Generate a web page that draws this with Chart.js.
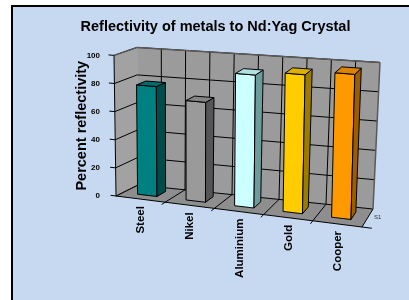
<!DOCTYPE html>
<html>
<head>
<meta charset="utf-8">
<script src="https://cdn.jsdelivr.net/npm/chart.js@4.4.1/dist/chart.umd.min.js"></script>
<style>
html, body { margin: 0; padding: 0; background: #fff; }
#wrap { width: 409px; height: 300px; }
</style>
</head>
<body>
<div id="wrap"><canvas id="chart" width="409" height="300"></canvas></div>
<script>
var metals = ['Steel', 'Nikel', 'Aluminium', 'Gold', 'Cooper'];
var reflectivity = [78, 70, 92, 95, 98];
var seriesName = 'S1';
var frontColors = ['#008080', '#9a9a9a', '#ccffff', '#ffcc00', '#ff9900'];
var sideColors = ['#004c4c', '#555555', '#6e9c9c', '#9c7c00', '#9c5c00'];
var topColors = ['#006c6c', '#858585', '#b0e0e0', '#dcb000', '#dc8400'];

var FONT = "'Liberation Sans', Arial, sans-serif";

// box corners relative to the chart area (front plane = y axis)
function corners(a) {
    return {
        FLB: [a.left + 1, a.bottom], FRB: [a.left + 247, a.bottom + 31],
        FLT: [a.left - 1, a.top], FRT: [a.left + 250, a.top + 22],
        BLB: [a.left + 23, a.bottom - 11], BRB: [a.left + 258, a.bottom + 13],
        BLT: [a.left + 22, a.top - 8], BRT: [a.left + 265, a.top + 7]
    };
}

function lerp(p, q, t) {
    return [p[0] + (q[0] - p[0]) * t, p[1] + (q[1] - p[1]) * t];
}

function project(c, u, v, w) {
    var f = lerp(lerp(c.FLB, c.FRB, u), lerp(c.FLT, c.FRT, u), v);
    var b = lerp(lerp(c.BLB, c.BRB, u), lerp(c.BLT, c.BRT, u), v);
    return lerp(f, b, w);
}

function poly(ctx, pts, fill, stroke) {
    ctx.beginPath();
    ctx.moveTo(pts[0][0], pts[0][1]);
    for (var i = 1; i < pts.length; i++) ctx.lineTo(pts[i][0], pts[i][1]);
    ctx.closePath();
    if (fill) { ctx.fillStyle = fill; ctx.fill(); }
    if (stroke) { ctx.strokeStyle = stroke; ctx.stroke(); }
}

function line(ctx, p, q) {
    ctx.beginPath();
    ctx.moveTo(p[0], p[1]);
    ctx.lineTo(q[0], q[1]);
    ctx.stroke();
}

function valueToV(yScale, val) {
    return (yScale.bottom - yScale.getPixelForValue(val)) / (yScale.bottom - yScale.top);
}

var box3d = {
    id: 'box3d',
    beforeDraw: function (chart) {
        var ctx = chart.ctx;
        ctx.save();
        ctx.fillStyle = '#ffffff';
        ctx.fillRect(0, 0, chart.width, chart.height);
        ctx.fillStyle = '#c6d9f0';
        ctx.fillRect(12, 6, chart.width - 12, chart.height - 6);
        ctx.fillStyle = '#000';
        ctx.fillRect(11, 5, 2, chart.height - 5);
        ctx.fillRect(11, 5, chart.width - 11, 2);
        ctx.restore();
    },
    beforeDatasetsDraw: function (chart) {
        var ctx = chart.ctx, c = corners(chart.chartArea), y = chart.scales.y;
        var P = function (u, v, w) { return project(c, u, v, w); };
        ctx.save();
        ctx.lineWidth = 1;
        // walls and floor
        poly(ctx, [P(0, 0, 0), P(0, 0, 1), P(0, 1, 1), P(0, 1, 0)], '#a2a2a2');
        poly(ctx, [P(0, 0, 1), P(1, 0, 1), P(1, 1, 1), P(0, 1, 1)], '#9b9b9b');
        poly(ctx, [P(0, 0, 0), P(1, 0, 0), P(1, 0, 1), P(0, 0, 1)], '#8e8e8e');
        ctx.strokeStyle = '#000';
        y.ticks.forEach(function (t) {
            var v = valueToV(y, t.value);
            line(ctx, P(0, v, 0), P(0, v, 1));
            line(ctx, P(0, v, 1), P(1, v, 1));
            line(ctx, P(0, v, 0), P(-0.022, v, 0));
        });
        for (var k = 1; k < 10; k++) {
            line(ctx, P(k / 10, 0, 1), P(k / 10, 1, 1));
        }
        for (var j = 1; j < 5; j++) {
            line(ctx, P(j / 5, 0, -0.18), P(j / 5, 0, 1));
        }
        line(ctx, P(0, 0, 0), P(0, 1, 0));
        line(ctx, P(0, 0, 0), P(1, 0, 0));
        line(ctx, P(1, 0, 0), P(1, 0, 1));
        line(ctx, P(1, 0, 0), P(1.04, 0, 0));
        ctx.setLineDash([1, 1]);
        line(ctx, P(0, 0, 0), P(0, 0, 1));
        ctx.setLineDash([]);
        ctx.strokeStyle = '#5a5a5a';
        ctx.lineWidth = 1.5;
        line(ctx, P(0, 1, 0), P(0, 1, 1));
        line(ctx, P(0, 1, 1), P(1, 1, 1));
        line(ctx, P(1, 1, 1), P(1, 0, 1));
        ctx.restore();
    },
    afterDatasetsDraw: function (chart) {
        var ctx = chart.ctx, a = chart.chartArea, c = corners(a), y = chart.scales.y, x = chart.scales.x;
        var P = function (u, v, w) { return project(c, u, v, w); };
        var span = a.right - a.left, w0 = 0.32, w1 = 0.74;
        var meta = chart.getDatasetMeta(0);
        ctx.save();
        ctx.lineWidth = 1;
        meta.data.forEach(function (bar, i) {
            var uc = (bar.x - a.left) / span, h = bar.width / 2 / span;
            var u0 = uc - h, u1 = uc + h;
            var vt = valueToV(y, chart.data.datasets[0].data[i]);
            poly(ctx, [P(u0, 0, w0), P(u1, 0, w0), P(u1, vt, w0), P(u0, vt, w0)], frontColors[i], '#000');
            poly(ctx, [P(u1, 0, w0), P(u1, 0, w1), P(u1, vt, w1), P(u1, vt, w0)], sideColors[i], '#000');
            poly(ctx, [P(u0, vt, w0), P(u1, vt, w0), P(u1, vt, w1), P(u0, vt, w1)], topColors[i], '#000');
        });
        // category labels follow the slanted front edge
        ctx.fillStyle = '#000';
        ctx.font = 'bold 11.5px ' + FONT;
        ctx.textAlign = 'right';
        ctx.textBaseline = 'middle';
        meta.data.forEach(function (bar, i) {
            var p = P((bar.x - a.left) / span, 0, 0);
            ctx.save();
            ctx.translate(p[0] + 0.5, p[1] + 7);
            ctx.rotate(-Math.PI / 2);
            ctx.fillText(x.getLabelForValue(i), 0, 0);
            ctx.restore();
        });
        var s = P(1, 0, 0.55);
        ctx.font = '6px ' + FONT;
        ctx.fillStyle = '#333';
        ctx.textAlign = 'left';
        ctx.fillText(chart.data.datasets[0].label, s[0] + 6, s[1]);
        ctx.restore();
    }
};

new Chart(document.getElementById('chart'), {
    type: 'bar',
    data: {
        labels: metals,
        datasets: [{
            label: seriesName,
            data: reflectivity,
            backgroundColor: 'rgba(0,0,0,0)',
            borderWidth: 0,
            categoryPercentage: 1,
            barPercentage: 0.4
        }]
    },
    options: {
        responsive: false,
        animation: false,
        devicePixelRatio: 1,
        layout: { padding: { left: 22, right: 0, top: 0, bottom: 0 } },
        plugins: {
            legend: { display: false },
            tooltip: { enabled: false },
            title: {
                display: true,
                text: 'Reflectivity of metals to Nd:Yag Crystal',
                color: '#000',
                font: { family: FONT, size: 14.5, weight: 'bold' },
                padding: { top: 18, bottom: 20 }
            }
        },
        scales: {
            x: {
                ticks: { display: false },
                grid: { display: false },
                border: { display: false },
                afterFit: function (s) { s.height = 104; }
            },
            y: {
                min: 0,
                max: 100,
                ticks: {
                    stepSize: 20,
                    color: '#000',
                    padding: 7,
                    font: { family: FONT, size: 8, weight: 'bold' }
                },
                grid: { display: false },
                border: { display: false },
                title: {
                    display: true,
                    text: 'Percent reflectivity',
                    color: '#000',
                    font: { family: FONT, size: 14.5, weight: 'bold' },
                    padding: { top: 51, bottom: 0 }
                },
                afterFit: function (s) { s.width = 93; }
            }
        }
    },
    plugins: [box3d]
});
</script>
</body>
</html>
